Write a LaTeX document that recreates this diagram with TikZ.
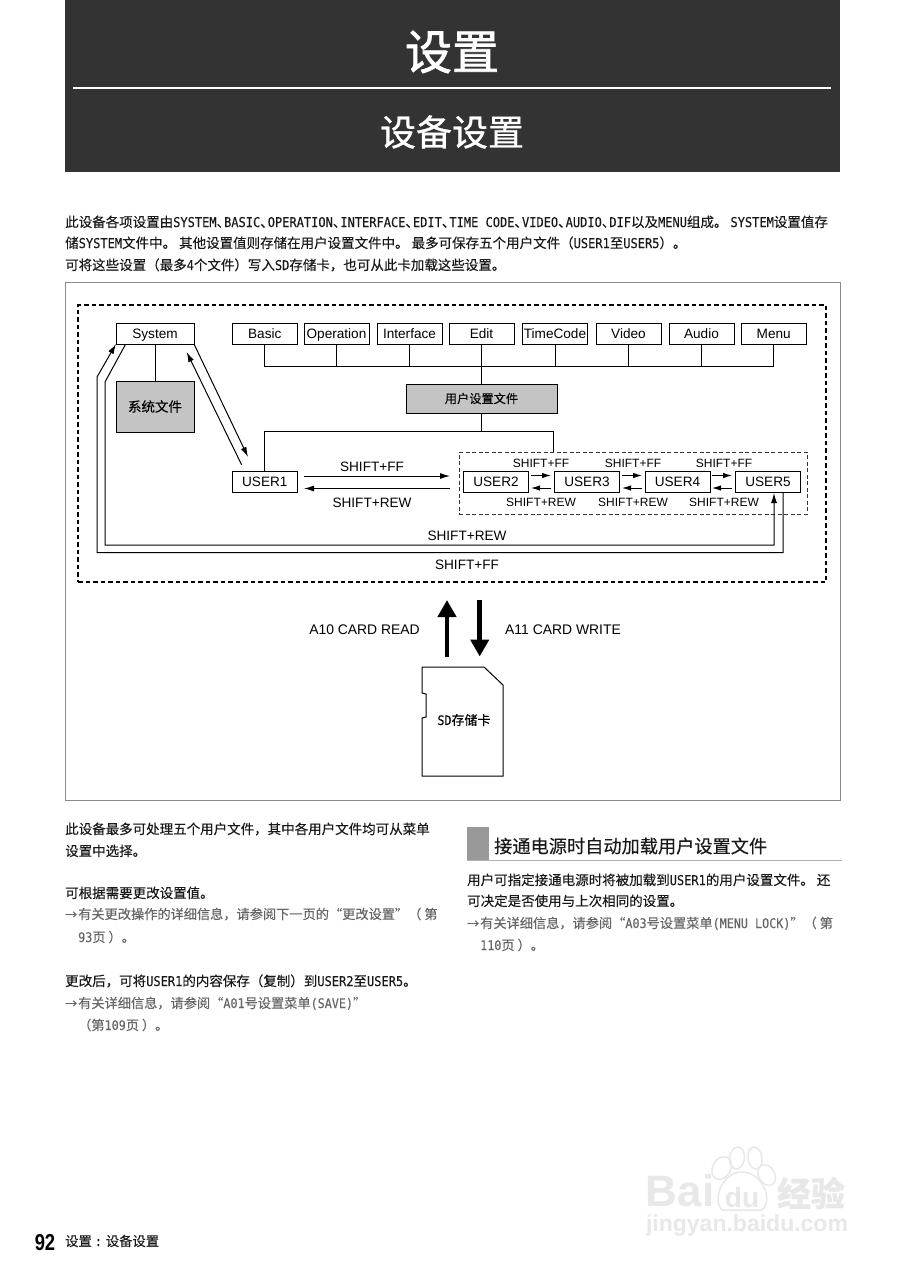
\documentclass[tikz,border=0pt]{standalone}
\usepackage{fontspec}
\setmainfont[FakeBold=0.2]{Noto Sans CJK SC}
\newfontfamily\headfont[FakeBold=0.8]{Noto Sans CJK SC}
\newfontfamily\titlefont[FakeBold=1.5]{Noto Sans CJK SC}
\newfontfamily\latfont[FakeStretch=0.89,FakeBold=0.2]{DejaVu Sans Mono}
\newfontfamily\arialfont{Liberation Sans}
\newfontfamily\numfont[FakeStretch=0.8]{Liberation Sans Bold}
\usepackage{xcolor}
\usetikzlibrary{arrows.meta}
\definecolor{headbg}{HTML}{333333}
\definecolor{notegray}{HTML}{666666}
\definecolor{filegray}{HTML}{C4C4C4}
\definecolor{markgray}{HTML}{E8E8E8}
\newcommand{\en}[1]{{\latfont #1}}
\newcommand{\dun}{\makebox[7.5pt][l]{、}}
\newcommand{\notearrow}{\makebox[13pt][l]{\resizebox{12pt}{!}{→}}}
\tikzset{
    menubox/.style={draw, line width=1pt, inner sep=0pt, minimum width=65pt, minimum height=21pt, text height=11pt, text depth=2pt, font=\arialfont\fontsize{13.6}{15}\selectfont},
    filebox/.style={draw, line width=1pt, fill=filegray, inner sep=0pt},
    shiftlabel/.style={inner sep=0pt, text height=11pt, text depth=0.5pt, font=\arialfont\fontsize{13.6}{15}\selectfont},
    smalllabel/.style={inner sep=0pt, font=\arialfont\fontsize{12}{14}\selectfont},
    wire/.style={line width=1pt},
    tipline/.style={line width=1pt, -{Latex[length=10pt,width=6pt]}},
    shorttip/.style={line width=1pt, -{Latex[length=9pt,width=5.5pt]}},
    bodyline/.style={anchor=west, inner sep=0pt, text height=12pt, text depth=2pt, font=\fontsize{13.5}{16}\selectfont, text=black!90},
    noteline/.style={bodyline, font=\fontsize{13.2}{16}\selectfont, text=notegray}
}

\begin{document}
\begin{tikzpicture}[x=1pt,y=-1pt]
    \useasboundingbox (0,0) rectangle (905,1280);
    \fill[white] (0,0) rectangle (905,1280);

    % page head
    \fill[headbg] (65,0) rectangle (840,172);
    \draw[white, line width=2.5pt] (73,88) -- (831,88);
    \node (title) at (452,52) [text=white, inner sep=0pt, font=\titlefont\fontsize{47}{50}\selectfont] {设置};
    \node (subtitle) at (452,132) [text=white, inner sep=0pt, font=\headfont\fontsize{36}{40}\selectfont] {设备设置};

    % intro
    \node (introa) at (65,222) [bodyline] {此设备各项设置由\en{SYSTEM}\dun\en{BASIC}\dun\en{OPERATION}\dun\en{INTERFACE}\dun\en{EDIT}\dun\en{TIME CODE}\dun\en{VIDEO}\dun\en{AUDIO}\dun\en{DIF}以及\en{MENU}组成。 \en{SYSTEM}设置值存};
    \node (introb) at (65,243) [bodyline] {储\en{SYSTEM}文件中。 其他设置值则存储在用户设置文件中。 最多可保存五个用户文件（\en{USER1}至\en{USER5}）。};
    \node (introc) at (65,265) [bodyline] {可将这些设置（最多\en{4}个文件）写入\en{SD}存储卡，也可从此卡加载这些设置。};

    % diagram frame
    \node (panel) at (452.5,541) [draw=black!45, line width=0.8pt, minimum width=775pt, minimum height=518pt, inner sep=0pt] {};
    \node (outer) at (452,443.5) [draw, line width=1.8pt, dash pattern=on 4.5pt off 3pt, minimum width=748pt, minimum height=277pt, inner sep=0pt] {};
    \node (inner) at (633,483) [draw=black!80, line width=1pt, dash pattern=on 4pt off 2.5pt, minimum width=348pt, minimum height=62pt, inner sep=0pt] {};

    % menus
    \node (system) at (155,333.5) [menubox, minimum width=78pt] {System};
    \node (basic) at (264.8,333.5) [menubox] {Basic};
    \node (operation) at (336.5,333.5) [menubox] {Operation};
    \node (interface) at (409.5,333.5) [menubox] {Interface};
    \node (edit) at (481.5,333.5) [menubox] {Edit};
    \node (timecode) at (555,333.5) [menubox] {TimeCode};
    \node (video) at (628.5,333.5) [menubox] {Video};
    \node (audio) at (701.5,333.5) [menubox] {Audio};
    \node (menu) at (773.7,333.5) [menubox] {Menu};

    \node (sysfile) at (155,406.5) [filebox, minimum width=78pt, minimum height=51pt, font=\fontsize{13.5}{15}\selectfont] {系统文件};
    \node (userfile) at (481.5,398.5) [filebox, minimum width=151pt, minimum height=29pt, font=\fontsize{12.2}{14}\selectfont] {用户设置文件};

    % bus
    \coordinate (busl) at (264.8,366);
    \coordinate (busr) at (773.7,366);
    \draw[wire] (basic.south) -- (busl) -- (busr) -- (menu.south);
    \draw[wire] (operation.south) -- (336.5,366);
    \draw[wire] (interface.south) -- (409.5,366);
    \draw[wire] (timecode.south) -- (555,366);
    \draw[wire] (video.south) -- (628.5,366);
    \draw[wire] (audio.south) -- (701.5,366);
    \draw[wire] (edit.south) -- (userfile.north);
    \draw[wire] (system.south) -- (sysfile.north);

    % users
    \node (usera) at (264.8,482) [menubox] {USER1};
    \node (userb) at (496,482) [menubox] {USER2};
    \node (userc) at (587,482) [menubox] {USER3};
    \node (userd) at (677.5,482) [menubox] {USER4};
    \node (usere) at (768,482) [menubox] {USER5};

    \coordinate (splitr) at (553,431.5);
    \draw[wire] (usera.north) |- (splitr) -- (553,452);
    \draw[wire] (userfile.south) -- (481.5,431.5);

    % system to user1
    \coordinate (sysa) at (194,344);
    \coordinate (sysb) at (186.7,352);
    \coordinate (usrb) at (241.7,465);
    \coordinate (usra) at (248,457);
    \draw[tipline] (sysa) -- (usra);
    \draw[tipline] (usrb) -- (sysb);

    % user1 to group
    \coordinate (ffa) at (304,476);
    \coordinate (ffb) at (450,476);
    \coordinate (rewa) at (450,488.5);
    \coordinate (rewb) at (304,488.5);
    \draw[tipline] (ffa) -- (ffb);
    \draw[tipline] (rewa) -- (rewb);
    \node (ffmain) at (372,466) [shiftlabel] {SHIFT+FF};
    \node (rewmain) at (372,502) [shiftlabel] {SHIFT+REW};

    % between the users
    \foreach \l/\xa/\xb/\xt in {b/531/551/541, c/622/642/633, d/712/732/724} {
        \coordinate (ffa\l) at (\xa,475.5);
        \coordinate (ffb\l) at (\xb,475.5);
        \coordinate (rewa\l) at (\xb,488);
        \coordinate (rewb\l) at (\xa,488);
        \draw[shorttip] (ffa\l) -- (ffb\l);
        \draw[shorttip] (rewa\l) -- (rewb\l);
        \node (ff\l) at (\xt,463) [smalllabel] {SHIFT+FF};
        \node (rew\l) at (\xt,502) [smalllabel] {SHIFT+REW};
    }

    % long way round
    \coordinate (loopff) at (783,493);
    \coordinate (loopffin) at (116,344);
    \draw[tipline] (loopff) -- (783,552.7) -- (97,552.7) -- (97,377) -- (loopffin);
    \coordinate (looprew) at (125.7,344);
    \coordinate (looprewin) at (774,493);
    \draw[tipline] (looprew) -- (105,382) -- (105,545) -- (774,545) -- (looprewin);
    \node (rewlong) at (467,535) [shiftlabel] {SHIFT+REW};
    \node (fflong) at (467,564) [shiftlabel] {SHIFT+FF};

    % card
    \coordinate (reada) at (447,657);
    \coordinate (readb) at (447,600);
    \coordinate (writea) at (479.7,600);
    \coordinate (writeb) at (479.7,656.5);
    \draw[line width=4.5pt, -{Triangle[length=17pt,width=18pt]}] (reada) -- (readb);
    \draw[line width=4.5pt, -{Triangle[length=17pt,width=18pt]}] (writea) -- (writeb);
    \node (read) at (364.5,629) [shiftlabel, font=\arialfont\fontsize{13.9}{15}\selectfont] {A10 CARD READ};
    \node (write) at (563,629) [shiftlabel, font=\arialfont\fontsize{13.9}{15}\selectfont] {A11 CARD WRITE};
    \draw[line width=1pt] (422,667) -- (484,667) -- (503,685) -- (503,776) -- (422,776) -- (422,718) -- (426,717) -- (426,694) -- (422,693) -- cycle;
    \node (sdcard) at (464,720) [inner sep=0pt, font=\fontsize{13}{15}\selectfont] {\en{SD}存储卡};

    % left column
    \node (lefta) at (65,829) [bodyline] {此设备最多可处理五个用户文件，其中各用户文件均可从菜单};
    \node (leftb) at (65,851) [bodyline] {设置中选择。};
    \node (leftc) at (65,893) [bodyline] {可根据需要更改设置值。};
    \node (leftd) at (65,914) [noteline] {\notearrow 有关更改操作的详细信息，请参阅下一页的“更改设置”（ 第};
    \node (lefte) at (78,937) [noteline] {\en{93}页 ）。};
    \node (leftf) at (65,981) [bodyline] {更改后，可将\en{USER1}的内容保存（复制）到\en{USER2}至\en{USER5}。};
    \node (leftg) at (65,1003) [noteline] {\notearrow 有关详细信息，请参阅“\en{A01}号设置菜单\en{(SAVE)}”};
    \node (lefth) at (78,1025) [noteline] {（第\en{109}页 ）。};

    % right column
    \fill[black!40] (467,827) rectangle (489,860);
    \draw[black!30, line width=0.8pt] (467,860.5) -- (842,860.5);
    \node (righthead) at (494,846) [anchor=west, inner sep=0pt, font=\fontsize{18.2}{21}\selectfont, text=black!90] {接通电源时自动加载用户设置文件};
    \node (righta) at (467,880) [bodyline] {用户可指定接通电源时将被加载到\en{USER1}的用户设置文件。 还};
    \node (rightb) at (467,901) [bodyline] {可决定是否使用与上次相同的设置。};
    \node (rightc) at (467,923) [noteline] {\notearrow 有关详细信息，请参阅“\en{A03}号设置菜单\en{(MENU LOCK)}”（ 第};
    \node (rightd) at (480,945) [noteline] {\en{110}页 ）。};

    % watermark
    \foreach \cx/\cy/\ra/\rb/\tilt in {721.7/1168/9/12/-30, 737/1158/7.5/11/-8, 755/1158/7/11/8, 766.7/1175/8/11/30}
        \draw[markgray, line width=1.5pt, rotate around={\tilt:(\cx,\cy)}] (\cx,\cy) ellipse ({\ra pt} and {\rb pt});
    \draw[markgray, line width=1.5pt] (722,1210) .. controls (712,1200) and (722,1172) .. (742,1172) .. controls (762,1172) and (774,1200) .. (762,1210) -- cycle;
    \node (markbai) at (680,1191) [inner sep=0pt, text=markgray, font=\arialfont\bfseries\fontsize{44}{46}\selectfont] {Bai};
    \node (markdu) at (742,1197) [inner sep=0pt, text=markgray, font=\arialfont\bfseries\fontsize{28}{30}\selectfont] {du};
    \node (markjy) at (811,1193) [inner sep=0pt, text=markgray, font=\bfseries\fontsize{34}{36}\selectfont] {经验};
    \node (markurl) at (747,1226) [inner sep=0pt, text=markgray, font=\arialfont\bfseries\fontsize{23}{25}\selectfont] {jingyan.baidu.com};

    % foot
    \node (pageno) at (45,1243) [inner sep=0pt, font=\numfont\fontsize{23}{25}\selectfont] {92};
    \node (foot) at (65,1241) [anchor=west, inner sep=0pt, font=\fontsize{13.3}{15}\selectfont, text=black!90] {设置 \en{:} 设备设置};
\end{tikzpicture}
\end{document}
